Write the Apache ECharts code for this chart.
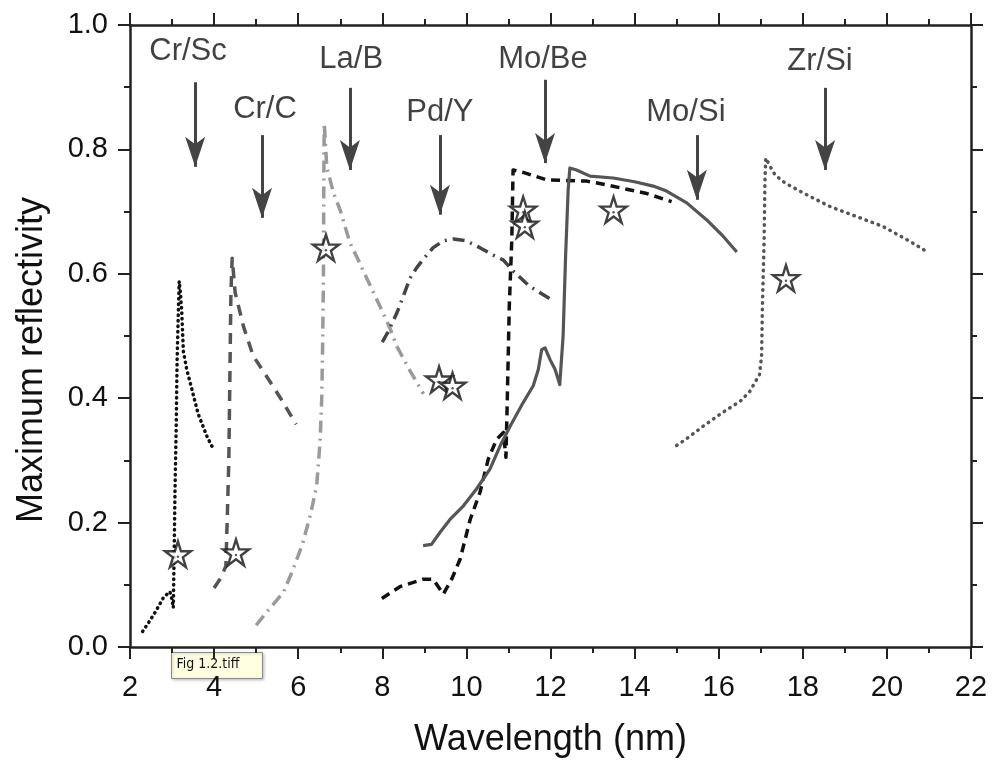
<!DOCTYPE html>
<html><head><meta charset="utf-8">
<script src="https://cdn.jsdelivr.net/npm/echarts@6/dist/echarts.min.js"></script>
<style>html,body{margin:0;padding:0;background:#fff}#c{width:993px;height:763px}</style>
</head><body><div id="c"></div>
<script>
// ---- Data (wavelength nm, maximum reflectivity) ----
const crSc = [[2.3,0.025],[2.45,0.04],[2.6,0.056],[2.8,0.08],[2.95,0.089],[3.0,0.076],[3.03,0.063],[3.05,0.15],[3.07,0.25],[3.1,0.36],[3.12,0.46],[3.15,0.54],[3.17,0.588],[3.2,0.57],[3.23,0.54],[3.27,0.475],[3.35,0.446],[3.45,0.42],[3.62,0.375],[3.84,0.337],[3.97,0.32]];
const crC = [[4.0,0.095],[4.15,0.11],[4.28,0.13],[4.31,0.2],[4.35,0.3],[4.38,0.46],[4.4,0.57],[4.43,0.625],[4.5,0.57],[4.7,0.515],[4.93,0.468],[5.25,0.435],[5.6,0.398],[5.95,0.358]];
const laB = [[5.0,0.035],[5.25,0.056],[5.65,0.088],[5.88,0.125],[6.1,0.165],[6.3,0.215],[6.44,0.26],[6.52,0.33],[6.56,0.4],[6.58,0.48],[6.6,0.593],[6.61,0.765],[6.62,0.842],[6.68,0.771],[6.84,0.73],[7.0,0.702],[7.23,0.65],[7.43,0.622],[7.63,0.593],[7.95,0.547],[8.18,0.513],[8.34,0.484],[8.66,0.444],[8.98,0.407]];
const pdY = [[8.0,0.49],[8.14,0.507],[8.34,0.536],[8.5,0.564],[8.66,0.593],[8.82,0.61],[9.02,0.627],[9.21,0.642],[9.45,0.653],[9.69,0.656],[10.0,0.653],[10.32,0.642],[10.64,0.63],[10.88,0.622],[11.12,0.604],[11.5,0.58],[12.03,0.558]];
const moBe = [[7.99,0.078],[8.42,0.097],[8.97,0.109],[9.21,0.109],[9.45,0.085],[9.65,0.109],[9.85,0.141],[10.09,0.205],[10.32,0.248],[10.52,0.302],[10.72,0.334],[10.88,0.345],[10.94,0.305],[10.97,0.39],[11.02,0.548],[11.08,0.655],[11.11,0.767],[11.35,0.763],[11.91,0.751],[12.38,0.75],[12.86,0.749],[13.34,0.743],[13.81,0.736],[14.29,0.729],[14.88,0.716]];
const moSi = [[8.97,0.163],[9.17,0.165],[9.37,0.184],[9.61,0.205],[9.93,0.227],[10.24,0.254],[10.56,0.286],[10.8,0.323],[11.04,0.355],[11.35,0.393],[11.59,0.42],[11.71,0.446],[11.79,0.478],[11.87,0.481],[11.99,0.462],[12.11,0.446],[12.22,0.422],[12.3,0.5],[12.36,0.63],[12.42,0.735],[12.46,0.77],[12.62,0.767],[12.94,0.757],[13.49,0.754],[14.0,0.748],[14.44,0.741],[14.76,0.733],[15.24,0.714],[15.71,0.687],[16.11,0.66],[16.43,0.635]];
const zrSi = [[15.0,0.324],[15.24,0.335],[15.63,0.355],[16.07,0.376],[16.51,0.395],[16.74,0.411],[16.97,0.438],[17.02,0.468],[17.04,0.548],[17.08,0.655],[17.1,0.751],[17.12,0.786],[17.22,0.773],[17.34,0.759],[17.58,0.746],[18.01,0.73],[18.65,0.708],[19.28,0.692],[19.91,0.676],[20.55,0.652],[20.99,0.634]];

const starX = [3.14, 4.52, 6.66, 9.35, 9.67, 11.35, 11.39, 13.5, 17.6];
const starY = [0.149, 0.152, 0.642, 0.43, 0.42, 0.703, 0.679, 0.703, 0.593];

const annNames = ['Cr/Sc','Cr/C','La/B','Pd/Y','Mo/Be','Mo/Si','Zr/Si'];
const annTextX = [3.38, 5.21, 7.26, 9.37, 11.82, 15.22, 18.41];
const annTextY = [0.958, 0.864, 0.945, 0.859, 0.945, 0.859, 0.942];
const arrowX = [3.55, 5.14, 7.23, 9.37, 11.87, 15.48, 18.53];
const arrowTop = [0.908, 0.823, 0.899, 0.823, 0.912, 0.823, 0.899];
const arrowTip = [0.772, 0.69, 0.767, 0.695, 0.778, 0.719, 0.767];

const xMin = 2, xMax = 22, xStep = 2;
const yMin = 0, yMax = 1, yStep = 0.2;

// ---- Chart ----
const FONT = '"Liberation Sans", Arial, sans-serif';
const chart = echarts.init(document.getElementById('c'), null, {renderer: 'canvas'});

function curve(name, data, color, width, type, cap) {
  return {name, type: 'line', data, symbol: 'none', showSymbol: false, silent: true,
    lineStyle: {color, width, type, cap: cap || 'butt', join: 'round'}, z: 2};
}
const starPath = 'path://M50,2 L61.2,36.2 L97.6,36.2 L68.2,57.4 L79.4,91.6 L50,70.4 L20.6,91.6 L31.8,57.4 L2.4,36.2 L38.8,36.2 Z';

const axisCommon = {
  axisLine: {show: true, onZero: false, lineStyle: {color: '#222', width: 2.5}},
  axisTick: {show: true, inside: false, length: 12, lineStyle: {color: '#222', width: 2}},
  minorTick: {show: true, splitNumber: 2, length: 6, lineStyle: {color: '#222', width: 2}},
  splitLine: {show: false}
};

chart.setOption({
  animation: false,
  backgroundColor: '#fff',
  grid: {left: 130, right: 22, top: 25, bottom: 115, containLabel: false},
  xAxis: [
    Object.assign({type: 'value', min: xMin, max: xMax, interval: xStep, position: 'bottom',
      name: 'Wavelength (nm)', nameLocation: 'middle', nameGap: 75,
      nameTextStyle: {fontFamily: FONT, fontSize: 36, color: '#111'},
      axisLabel: {fontFamily: FONT, fontSize: 29, color: '#111', margin: 26}}, axisCommon),
    Object.assign({type: 'value', min: xMin, max: xMax, interval: xStep, position: 'top',
      axisLabel: {show: false}}, axisCommon)
  ],
  yAxis: [
    Object.assign({type: 'value', min: yMin, max: yMax, interval: yStep, position: 'left',
      name: 'Maximum reflectivity', nameLocation: 'middle', nameGap: 80,
      nameTextStyle: {fontFamily: FONT, fontSize: 36, color: '#111', padding: [0, 48, 0, 0]},
      axisLabel: {fontFamily: FONT, fontSize: 29, color: '#111', margin: 22,
        formatter: v => v.toFixed(1)}}, axisCommon),
    Object.assign({type: 'value', min: yMin, max: yMax, interval: yStep, position: 'right',
      axisLabel: {show: false}}, axisCommon)
  ],
  series: [
    curve('Cr/Sc', crSc, '#111', 3.5, [0.5, 5], 'round'),
    curve('Cr/C', crC, '#555', 3.5, [11, 8]),
    curve('La/B', laB, '#9a9a9a', 3.5, [12, 6, 2, 6]),
    curve('Pd/Y', pdY, '#444', 3.5, [12, 6, 2, 6]),
    curve('Mo/Be', moBe, '#111', 3.5, [9, 6]),
    curve('Mo/Si', moSi, '#555', 3.2, 'solid'),
    curve('Zr/Si', zrSi, '#555', 3.5, [0.5, 6], 'round'),
    {
      name: 'stars', type: 'scatter', symbol: starPath, symbolSize: 26, silent: true, z: 5,
      data: starX.map((x, i) => [x, starY[i]]),
      itemStyle: {color: '#fff', borderColor: '#111', borderWidth: 2.4}
    },
    {
      name: 'starDots', type: 'scatter', symbol: 'circle', symbolSize: 2.5, silent: true, z: 6,
      data: starX.map((x, i) => [x, starY[i] - 0.004]),
      itemStyle: {color: '#333'}
    },
    {
      name: 'annotations', type: 'scatter', symbolSize: 0, silent: true, z: 4,
      data: annNames.map((n, i) => ({name: n, value: [annTextX[i], annTextY[i]]})),
      label: {show: true, position: 'inside', formatter: p => p.name,
        fontFamily: FONT, fontSize: 31, color: '#111'},
      markLine: {
        silent: true, symbol: ['none', 'arrow'], symbolSize: [15, 30],
        label: {show: false},
        lineStyle: {color: '#444', width: 3, type: 'solid'},
        data: arrowX.map((x, i) => [{coord: [x, arrowTop[i]]}, {coord: [x, arrowTip[i]]}])
      }
    }
  ],
  graphic: [
    {type: 'group', left: 171, top: 652, z: 100, children: [
      {type: 'rect', shape: {x: 0, y: 0, width: 91, height: 26},
        style: {fill: '#ffffe1', stroke: '#8a8a8a', lineWidth: 1, shadowBlur: 3, shadowColor: 'rgba(0,0,0,0.25)', shadowOffsetX: 1, shadowOffsetY: 1}},
      {type: 'text', x: 5, y: 5, style: {text: 'Fig 1.2.tiff', fontFamily: '"DejaVu Sans Condensed", "Liberation Sans Narrow", sans-serif', fontSize: 14, fill: '#111'}}
    ]}
  ]
});
</script></body></html>
